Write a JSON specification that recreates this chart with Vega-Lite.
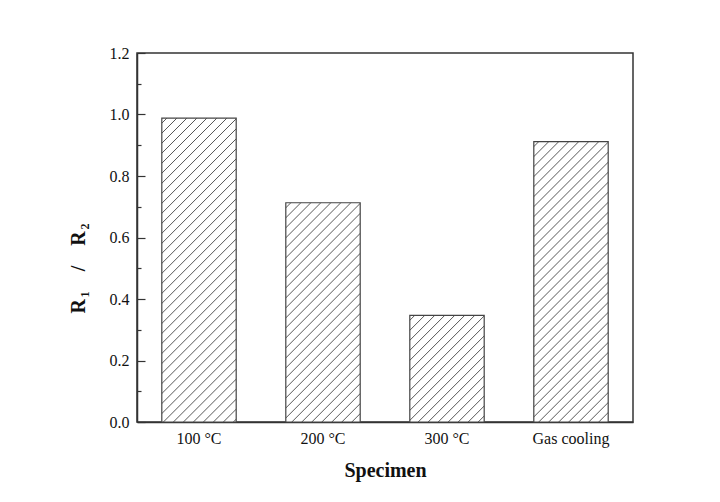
{
  "$schema": "https://vega.github.io/schema/vega-lite/v6.json",
  "autosize": "none",
  "width": 496,
  "height": 369,
  "padding": {"left": 137, "top": 53, "right": 87, "bottom": 80},
  "background": "#ffffff",
  "config": {
    "view": {"stroke": "#333333", "strokeWidth": 1.5},
    "font": "Liberation Serif"
  },
  "data": {
    "values": [
      {"Specimen": "100 °C", "ratio": 0.988},
      {"Specimen": "200 °C", "ratio": 0.713},
      {"Specimen": "300 °C", "ratio": 0.347},
      {"Specimen": "Gas cooling", "ratio": 0.912}
    ]
  },
  "mark": {"type": "bar", "stroke": "#444444", "strokeWidth": 1.2},
  "encoding": {
    "x": {
      "field": "Specimen",
      "type": "nominal",
      "sort": null,
      "scale": {"paddingInner": 0.4, "paddingOuter": 0.2},
      "axis": {
        "title": "Specimen",
        "labelAngle": 0,
        "ticks": false,
        "domainColor": "#333333",
        "domainWidth": 1.5,
        "labelFont": "Liberation Serif",
        "labelFontSize": 16,
        "labelColor": "#111111",
        "labelPadding": 8,
        "titleFont": "Liberation Serif",
        "titleFontSize": 20,
        "titleFontWeight": "bold",
        "titleColor": "#111111",
        "titlePadding": 14
      }
    },
    "y": {
      "field": "ratio",
      "type": "quantitative",
      "scale": {"domain": [0, 1.2], "nice": false},
      "axis": {
        "title": "R\u200a₁\u2003/\u2003R\u200a₂",
        "values": [0, 0.1, 0.2, 0.3, 0.4, 0.5, 0.6, 0.7, 0.8, 0.9, 1.0, 1.1, 1.2],
        "labelExpr": "round(datum.value*10)%2==0 ? format(datum.value, '.1f') : ''",
        "grid": false,
        "domainColor": "#333333",
        "domainWidth": 1.5,
        "tickColor": "#333333",
        "tickWidth": 1.2,
        "tickSize": {"condition": {"test": "round(datum.value*10)%2==0", "value": -8}, "value": -4},
        "labelFont": "Liberation Serif",
        "labelFontSize": 16,
        "labelColor": "#111111",
        "labelPadding": 16,
        "titleFont": "Liberation Serif",
        "titleFontSize": 20,
        "titleFontWeight": "bold",
        "titleColor": "#111111",
        "titleX": -49,
        "titleY": 215
      }
    },
    "fill": {
      "condition": [
        {"test": "datum.Specimen === '100 °C'", "value": {"gradient": "linear", "x1": 0, "y1": 0, "x2": 0.2897, "y2": 1.1814, "stops": [{"offset":0,"color":"#fff"},
{"offset":0.0106,"color":"#fff"},{"offset":0.0132,"color":"#555"},{"offset":0.0158,"color":"#fff"},
{"offset":0.0369,"color":"#fff"},{"offset":0.0395,"color":"#555"},{"offset":0.0421,"color":"#fff"},
{"offset":0.0632,"color":"#fff"},{"offset":0.0658,"color":"#555"},{"offset":0.0684,"color":"#fff"},
{"offset":0.0895,"color":"#fff"},{"offset":0.0921,"color":"#555"},{"offset":0.0947,"color":"#fff"},
{"offset":0.1158,"color":"#fff"},{"offset":0.1184,"color":"#555"},{"offset":0.121,"color":"#fff"},
{"offset":0.1421,"color":"#fff"},{"offset":0.1447,"color":"#555"},{"offset":0.1473,"color":"#fff"},
{"offset":0.1685,"color":"#fff"},{"offset":0.1711,"color":"#555"},{"offset":0.1737,"color":"#fff"},
{"offset":0.1948,"color":"#fff"},{"offset":0.1974,"color":"#555"},{"offset":0.2,"color":"#fff"},
{"offset":0.2211,"color":"#fff"},{"offset":0.2237,"color":"#555"},{"offset":0.2263,"color":"#fff"},
{"offset":0.2474,"color":"#fff"},{"offset":0.25,"color":"#555"},{"offset":0.2526,"color":"#fff"},
{"offset":0.2737,"color":"#fff"},{"offset":0.2763,"color":"#555"},{"offset":0.2789,"color":"#fff"},
{"offset":0.3,"color":"#fff"},{"offset":0.3026,"color":"#555"},{"offset":0.3052,"color":"#fff"},
{"offset":0.3263,"color":"#fff"},{"offset":0.3289,"color":"#555"},{"offset":0.3315,"color":"#fff"},
{"offset":0.3527,"color":"#fff"},{"offset":0.3553,"color":"#555"},{"offset":0.3579,"color":"#fff"},
{"offset":0.379,"color":"#fff"},{"offset":0.3816,"color":"#555"},{"offset":0.3842,"color":"#fff"},
{"offset":0.4053,"color":"#fff"},{"offset":0.4079,"color":"#555"},{"offset":0.4105,"color":"#fff"},
{"offset":0.4316,"color":"#fff"},{"offset":0.4342,"color":"#555"},{"offset":0.4368,"color":"#fff"},
{"offset":0.4579,"color":"#fff"},{"offset":0.4605,"color":"#555"},{"offset":0.4631,"color":"#fff"},
{"offset":0.4842,"color":"#fff"},{"offset":0.4868,"color":"#555"},{"offset":0.4894,"color":"#fff"},
{"offset":0.5106,"color":"#fff"},{"offset":0.5132,"color":"#555"},{"offset":0.5158,"color":"#fff"},
{"offset":0.5369,"color":"#fff"},{"offset":0.5395,"color":"#555"},{"offset":0.5421,"color":"#fff"},
{"offset":0.5632,"color":"#fff"},{"offset":0.5658,"color":"#555"},{"offset":0.5684,"color":"#fff"},
{"offset":0.5895,"color":"#fff"},{"offset":0.5921,"color":"#555"},{"offset":0.5947,"color":"#fff"},
{"offset":0.6158,"color":"#fff"},{"offset":0.6184,"color":"#555"},{"offset":0.621,"color":"#fff"},
{"offset":0.6421,"color":"#fff"},{"offset":0.6447,"color":"#555"},{"offset":0.6473,"color":"#fff"},
{"offset":0.6685,"color":"#fff"},{"offset":0.6711,"color":"#555"},{"offset":0.6737,"color":"#fff"},
{"offset":0.6948,"color":"#fff"},{"offset":0.6974,"color":"#555"},{"offset":0.7,"color":"#fff"},
{"offset":0.7211,"color":"#fff"},{"offset":0.7237,"color":"#555"},{"offset":0.7263,"color":"#fff"},
{"offset":0.7474,"color":"#fff"},{"offset":0.75,"color":"#555"},{"offset":0.7526,"color":"#fff"},
{"offset":0.7737,"color":"#fff"},{"offset":0.7763,"color":"#555"},{"offset":0.7789,"color":"#fff"},
{"offset":0.8,"color":"#fff"},{"offset":0.8026,"color":"#555"},{"offset":0.8052,"color":"#fff"},
{"offset":0.8263,"color":"#fff"},{"offset":0.8289,"color":"#555"},{"offset":0.8315,"color":"#fff"},
{"offset":0.8527,"color":"#fff"},{"offset":0.8553,"color":"#555"},{"offset":0.8579,"color":"#fff"},
{"offset":0.879,"color":"#fff"},{"offset":0.8816,"color":"#555"},{"offset":0.8842,"color":"#fff"},
{"offset":0.9053,"color":"#fff"},{"offset":0.9079,"color":"#555"},{"offset":0.9105,"color":"#fff"},
{"offset":0.9316,"color":"#fff"},{"offset":0.9342,"color":"#555"},{"offset":0.9368,"color":"#fff"},
{"offset":0.9579,"color":"#fff"},{"offset":0.9605,"color":"#555"},{"offset":0.9631,"color":"#fff"},
{"offset":0.9842,"color":"#fff"},{"offset":0.9868,"color":"#555"},{"offset":0.9894,"color":"#fff"},
{"offset":1,"color":"#fff"}]}},
        {"test": "datum.Specimen === '200 °C'", "value": {"gradient": "linear", "x1": 0, "y1": 0, "x2": 0.5285, "y2": 1.5556, "stops": [{"offset":0,"color":"#fff"},
{"offset":0.0106,"color":"#fff"},{"offset":0.0132,"color":"#555"},{"offset":0.0158,"color":"#fff"},
{"offset":0.0369,"color":"#fff"},{"offset":0.0395,"color":"#555"},{"offset":0.0421,"color":"#fff"},
{"offset":0.0632,"color":"#fff"},{"offset":0.0658,"color":"#555"},{"offset":0.0684,"color":"#fff"},
{"offset":0.0895,"color":"#fff"},{"offset":0.0921,"color":"#555"},{"offset":0.0947,"color":"#fff"},
{"offset":0.1158,"color":"#fff"},{"offset":0.1184,"color":"#555"},{"offset":0.121,"color":"#fff"},
{"offset":0.1421,"color":"#fff"},{"offset":0.1447,"color":"#555"},{"offset":0.1473,"color":"#fff"},
{"offset":0.1685,"color":"#fff"},{"offset":0.1711,"color":"#555"},{"offset":0.1737,"color":"#fff"},
{"offset":0.1948,"color":"#fff"},{"offset":0.1974,"color":"#555"},{"offset":0.2,"color":"#fff"},
{"offset":0.2211,"color":"#fff"},{"offset":0.2237,"color":"#555"},{"offset":0.2263,"color":"#fff"},
{"offset":0.2474,"color":"#fff"},{"offset":0.25,"color":"#555"},{"offset":0.2526,"color":"#fff"},
{"offset":0.2737,"color":"#fff"},{"offset":0.2763,"color":"#555"},{"offset":0.2789,"color":"#fff"},
{"offset":0.3,"color":"#fff"},{"offset":0.3026,"color":"#555"},{"offset":0.3052,"color":"#fff"},
{"offset":0.3263,"color":"#fff"},{"offset":0.3289,"color":"#555"},{"offset":0.3315,"color":"#fff"},
{"offset":0.3527,"color":"#fff"},{"offset":0.3553,"color":"#555"},{"offset":0.3579,"color":"#fff"},
{"offset":0.379,"color":"#fff"},{"offset":0.3816,"color":"#555"},{"offset":0.3842,"color":"#fff"},
{"offset":0.4053,"color":"#fff"},{"offset":0.4079,"color":"#555"},{"offset":0.4105,"color":"#fff"},
{"offset":0.4316,"color":"#fff"},{"offset":0.4342,"color":"#555"},{"offset":0.4368,"color":"#fff"},
{"offset":0.4579,"color":"#fff"},{"offset":0.4605,"color":"#555"},{"offset":0.4631,"color":"#fff"},
{"offset":0.4842,"color":"#fff"},{"offset":0.4868,"color":"#555"},{"offset":0.4894,"color":"#fff"},
{"offset":0.5106,"color":"#fff"},{"offset":0.5132,"color":"#555"},{"offset":0.5158,"color":"#fff"},
{"offset":0.5369,"color":"#fff"},{"offset":0.5395,"color":"#555"},{"offset":0.5421,"color":"#fff"},
{"offset":0.5632,"color":"#fff"},{"offset":0.5658,"color":"#555"},{"offset":0.5684,"color":"#fff"},
{"offset":0.5895,"color":"#fff"},{"offset":0.5921,"color":"#555"},{"offset":0.5947,"color":"#fff"},
{"offset":0.6158,"color":"#fff"},{"offset":0.6184,"color":"#555"},{"offset":0.621,"color":"#fff"},
{"offset":0.6421,"color":"#fff"},{"offset":0.6447,"color":"#555"},{"offset":0.6473,"color":"#fff"},
{"offset":0.6685,"color":"#fff"},{"offset":0.6711,"color":"#555"},{"offset":0.6737,"color":"#fff"},
{"offset":0.6948,"color":"#fff"},{"offset":0.6974,"color":"#555"},{"offset":0.7,"color":"#fff"},
{"offset":0.7211,"color":"#fff"},{"offset":0.7237,"color":"#555"},{"offset":0.7263,"color":"#fff"},
{"offset":0.7474,"color":"#fff"},{"offset":0.75,"color":"#555"},{"offset":0.7526,"color":"#fff"},
{"offset":0.7737,"color":"#fff"},{"offset":0.7763,"color":"#555"},{"offset":0.7789,"color":"#fff"},
{"offset":0.8,"color":"#fff"},{"offset":0.8026,"color":"#555"},{"offset":0.8052,"color":"#fff"},
{"offset":0.8263,"color":"#fff"},{"offset":0.8289,"color":"#555"},{"offset":0.8315,"color":"#fff"},
{"offset":0.8527,"color":"#fff"},{"offset":0.8553,"color":"#555"},{"offset":0.8579,"color":"#fff"},
{"offset":0.879,"color":"#fff"},{"offset":0.8816,"color":"#555"},{"offset":0.8842,"color":"#fff"},
{"offset":0.9053,"color":"#fff"},{"offset":0.9079,"color":"#555"},{"offset":0.9105,"color":"#fff"},
{"offset":0.9316,"color":"#fff"},{"offset":0.9342,"color":"#555"},{"offset":0.9368,"color":"#fff"},
{"offset":0.9579,"color":"#fff"},{"offset":0.9605,"color":"#555"},{"offset":0.9631,"color":"#fff"},
{"offset":0.9842,"color":"#fff"},{"offset":0.9868,"color":"#555"},{"offset":0.9894,"color":"#fff"},
{"offset":1,"color":"#fff"}]}},
        {"test": "datum.Specimen === '300 °C'", "value": {"gradient": "linear", "x1": 0, "y1": 0, "x2": 1.673, "y2": 2.3971, "stops": [{"offset":0,"color":"#fff"},
{"offset":0.0106,"color":"#fff"},{"offset":0.0132,"color":"#555"},{"offset":0.0158,"color":"#fff"},
{"offset":0.0369,"color":"#fff"},{"offset":0.0395,"color":"#555"},{"offset":0.0421,"color":"#fff"},
{"offset":0.0632,"color":"#fff"},{"offset":0.0658,"color":"#555"},{"offset":0.0684,"color":"#fff"},
{"offset":0.0895,"color":"#fff"},{"offset":0.0921,"color":"#555"},{"offset":0.0947,"color":"#fff"},
{"offset":0.1158,"color":"#fff"},{"offset":0.1184,"color":"#555"},{"offset":0.121,"color":"#fff"},
{"offset":0.1421,"color":"#fff"},{"offset":0.1447,"color":"#555"},{"offset":0.1473,"color":"#fff"},
{"offset":0.1685,"color":"#fff"},{"offset":0.1711,"color":"#555"},{"offset":0.1737,"color":"#fff"},
{"offset":0.1948,"color":"#fff"},{"offset":0.1974,"color":"#555"},{"offset":0.2,"color":"#fff"},
{"offset":0.2211,"color":"#fff"},{"offset":0.2237,"color":"#555"},{"offset":0.2263,"color":"#fff"},
{"offset":0.2474,"color":"#fff"},{"offset":0.25,"color":"#555"},{"offset":0.2526,"color":"#fff"},
{"offset":0.2737,"color":"#fff"},{"offset":0.2763,"color":"#555"},{"offset":0.2789,"color":"#fff"},
{"offset":0.3,"color":"#fff"},{"offset":0.3026,"color":"#555"},{"offset":0.3052,"color":"#fff"},
{"offset":0.3263,"color":"#fff"},{"offset":0.3289,"color":"#555"},{"offset":0.3315,"color":"#fff"},
{"offset":0.3527,"color":"#fff"},{"offset":0.3553,"color":"#555"},{"offset":0.3579,"color":"#fff"},
{"offset":0.379,"color":"#fff"},{"offset":0.3816,"color":"#555"},{"offset":0.3842,"color":"#fff"},
{"offset":0.4053,"color":"#fff"},{"offset":0.4079,"color":"#555"},{"offset":0.4105,"color":"#fff"},
{"offset":0.4316,"color":"#fff"},{"offset":0.4342,"color":"#555"},{"offset":0.4368,"color":"#fff"},
{"offset":0.4579,"color":"#fff"},{"offset":0.4605,"color":"#555"},{"offset":0.4631,"color":"#fff"},
{"offset":0.4842,"color":"#fff"},{"offset":0.4868,"color":"#555"},{"offset":0.4894,"color":"#fff"},
{"offset":0.5106,"color":"#fff"},{"offset":0.5132,"color":"#555"},{"offset":0.5158,"color":"#fff"},
{"offset":0.5369,"color":"#fff"},{"offset":0.5395,"color":"#555"},{"offset":0.5421,"color":"#fff"},
{"offset":0.5632,"color":"#fff"},{"offset":0.5658,"color":"#555"},{"offset":0.5684,"color":"#fff"},
{"offset":0.5895,"color":"#fff"},{"offset":0.5921,"color":"#555"},{"offset":0.5947,"color":"#fff"},
{"offset":0.6158,"color":"#fff"},{"offset":0.6184,"color":"#555"},{"offset":0.621,"color":"#fff"},
{"offset":0.6421,"color":"#fff"},{"offset":0.6447,"color":"#555"},{"offset":0.6473,"color":"#fff"},
{"offset":0.6685,"color":"#fff"},{"offset":0.6711,"color":"#555"},{"offset":0.6737,"color":"#fff"},
{"offset":0.6948,"color":"#fff"},{"offset":0.6974,"color":"#555"},{"offset":0.7,"color":"#fff"},
{"offset":0.7211,"color":"#fff"},{"offset":0.7237,"color":"#555"},{"offset":0.7263,"color":"#fff"},
{"offset":0.7474,"color":"#fff"},{"offset":0.75,"color":"#555"},{"offset":0.7526,"color":"#fff"},
{"offset":0.7737,"color":"#fff"},{"offset":0.7763,"color":"#555"},{"offset":0.7789,"color":"#fff"},
{"offset":0.8,"color":"#fff"},{"offset":0.8026,"color":"#555"},{"offset":0.8052,"color":"#fff"},
{"offset":0.8263,"color":"#fff"},{"offset":0.8289,"color":"#555"},{"offset":0.8315,"color":"#fff"},
{"offset":0.8527,"color":"#fff"},{"offset":0.8553,"color":"#555"},{"offset":0.8579,"color":"#fff"},
{"offset":0.879,"color":"#fff"},{"offset":0.8816,"color":"#555"},{"offset":0.8842,"color":"#fff"},
{"offset":0.9053,"color":"#fff"},{"offset":0.9079,"color":"#555"},{"offset":0.9105,"color":"#fff"},
{"offset":0.9316,"color":"#fff"},{"offset":0.9342,"color":"#555"},{"offset":0.9368,"color":"#fff"},
{"offset":0.9579,"color":"#fff"},{"offset":0.9605,"color":"#555"},{"offset":0.9631,"color":"#fff"},
{"offset":0.9842,"color":"#fff"},{"offset":0.9868,"color":"#555"},{"offset":0.9894,"color":"#fff"},
{"offset":1,"color":"#fff"}]}}
      ],
      "value": {"gradient": "linear", "x1": 0, "y1": 0, "x2": 0.3366, "y2": 1.2673, "stops": [{"offset":0,"color":"#fff"},
{"offset":0.0106,"color":"#fff"},{"offset":0.0132,"color":"#555"},{"offset":0.0158,"color":"#fff"},
{"offset":0.0369,"color":"#fff"},{"offset":0.0395,"color":"#555"},{"offset":0.0421,"color":"#fff"},
{"offset":0.0632,"color":"#fff"},{"offset":0.0658,"color":"#555"},{"offset":0.0684,"color":"#fff"},
{"offset":0.0895,"color":"#fff"},{"offset":0.0921,"color":"#555"},{"offset":0.0947,"color":"#fff"},
{"offset":0.1158,"color":"#fff"},{"offset":0.1184,"color":"#555"},{"offset":0.121,"color":"#fff"},
{"offset":0.1421,"color":"#fff"},{"offset":0.1447,"color":"#555"},{"offset":0.1473,"color":"#fff"},
{"offset":0.1685,"color":"#fff"},{"offset":0.1711,"color":"#555"},{"offset":0.1737,"color":"#fff"},
{"offset":0.1948,"color":"#fff"},{"offset":0.1974,"color":"#555"},{"offset":0.2,"color":"#fff"},
{"offset":0.2211,"color":"#fff"},{"offset":0.2237,"color":"#555"},{"offset":0.2263,"color":"#fff"},
{"offset":0.2474,"color":"#fff"},{"offset":0.25,"color":"#555"},{"offset":0.2526,"color":"#fff"},
{"offset":0.2737,"color":"#fff"},{"offset":0.2763,"color":"#555"},{"offset":0.2789,"color":"#fff"},
{"offset":0.3,"color":"#fff"},{"offset":0.3026,"color":"#555"},{"offset":0.3052,"color":"#fff"},
{"offset":0.3263,"color":"#fff"},{"offset":0.3289,"color":"#555"},{"offset":0.3315,"color":"#fff"},
{"offset":0.3527,"color":"#fff"},{"offset":0.3553,"color":"#555"},{"offset":0.3579,"color":"#fff"},
{"offset":0.379,"color":"#fff"},{"offset":0.3816,"color":"#555"},{"offset":0.3842,"color":"#fff"},
{"offset":0.4053,"color":"#fff"},{"offset":0.4079,"color":"#555"},{"offset":0.4105,"color":"#fff"},
{"offset":0.4316,"color":"#fff"},{"offset":0.4342,"color":"#555"},{"offset":0.4368,"color":"#fff"},
{"offset":0.4579,"color":"#fff"},{"offset":0.4605,"color":"#555"},{"offset":0.4631,"color":"#fff"},
{"offset":0.4842,"color":"#fff"},{"offset":0.4868,"color":"#555"},{"offset":0.4894,"color":"#fff"},
{"offset":0.5106,"color":"#fff"},{"offset":0.5132,"color":"#555"},{"offset":0.5158,"color":"#fff"},
{"offset":0.5369,"color":"#fff"},{"offset":0.5395,"color":"#555"},{"offset":0.5421,"color":"#fff"},
{"offset":0.5632,"color":"#fff"},{"offset":0.5658,"color":"#555"},{"offset":0.5684,"color":"#fff"},
{"offset":0.5895,"color":"#fff"},{"offset":0.5921,"color":"#555"},{"offset":0.5947,"color":"#fff"},
{"offset":0.6158,"color":"#fff"},{"offset":0.6184,"color":"#555"},{"offset":0.621,"color":"#fff"},
{"offset":0.6421,"color":"#fff"},{"offset":0.6447,"color":"#555"},{"offset":0.6473,"color":"#fff"},
{"offset":0.6685,"color":"#fff"},{"offset":0.6711,"color":"#555"},{"offset":0.6737,"color":"#fff"},
{"offset":0.6948,"color":"#fff"},{"offset":0.6974,"color":"#555"},{"offset":0.7,"color":"#fff"},
{"offset":0.7211,"color":"#fff"},{"offset":0.7237,"color":"#555"},{"offset":0.7263,"color":"#fff"},
{"offset":0.7474,"color":"#fff"},{"offset":0.75,"color":"#555"},{"offset":0.7526,"color":"#fff"},
{"offset":0.7737,"color":"#fff"},{"offset":0.7763,"color":"#555"},{"offset":0.7789,"color":"#fff"},
{"offset":0.8,"color":"#fff"},{"offset":0.8026,"color":"#555"},{"offset":0.8052,"color":"#fff"},
{"offset":0.8263,"color":"#fff"},{"offset":0.8289,"color":"#555"},{"offset":0.8315,"color":"#fff"},
{"offset":0.8527,"color":"#fff"},{"offset":0.8553,"color":"#555"},{"offset":0.8579,"color":"#fff"},
{"offset":0.879,"color":"#fff"},{"offset":0.8816,"color":"#555"},{"offset":0.8842,"color":"#fff"},
{"offset":0.9053,"color":"#fff"},{"offset":0.9079,"color":"#555"},{"offset":0.9105,"color":"#fff"},
{"offset":0.9316,"color":"#fff"},{"offset":0.9342,"color":"#555"},{"offset":0.9368,"color":"#fff"},
{"offset":0.9579,"color":"#fff"},{"offset":0.9605,"color":"#555"},{"offset":0.9631,"color":"#fff"},
{"offset":0.9842,"color":"#fff"},{"offset":0.9868,"color":"#555"},{"offset":0.9894,"color":"#fff"},
{"offset":1,"color":"#fff"}]}
    }
  }
}
